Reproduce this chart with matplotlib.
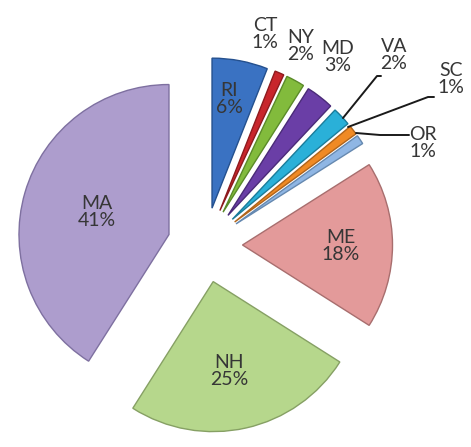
import matplotlib
matplotlib.use("Agg")
import matplotlib.pyplot as plt
import numpy as np

states = ["RI", "CT", "NY", "MD", "VA", "SC", "OR", "ME", "NH", "MA"]
shares = [6, 1, 2, 3, 2, 1, 1, 18, 25, 41]
colors = ["#3a72c2", "#c8262c", "#82bb3c", "#6a3ea6", "#2ab0d8", "#f08a24",
          "#8fb6e4", "#e39a9a", "#b6d78c", "#ad9dcd"]
edges = ["#24508e", "#8e1a1e", "#5a8a28", "#4a2a78", "#1a7c9a", "#b0641a",
         "#6689b0", "#a86e6e", "#86a064", "#7e70a0"]

plt.rcParams['font.family'] = ['Lato', 'DejaVu Sans']

W, H = 471, 447
fig = plt.figure(figsize=(W / 100, H / 100), dpi=100)
ax = fig.add_axes([0, 0, 1, 1])
R = 150.0
cx, cy = 205.0, 245.0

wedges, _ = ax.pie(shares, colors=colors, startangle=90, counterclock=False,
                   explode=[0.25] * len(shares), radius=1.0,
                   wedgeprops=dict(linewidth=1.0), normalize=True)
for w, ec in zip(wedges, edges):
    w.set_edgecolor(ec)

ax.set_xlim(-cx / R, (W - cx) / R)
ax.set_ylim(-(H - cy) / R, cy / R)
ax.set_aspect('auto')
ax.axis('off')

txt = "#363636"
fs = 14

def px(x, y):
    return ((x - cx) / R, (cy - y) / R)

# label centres (pixels from top-left)
label_pos = {"RI": (229, 99), "CT": (265, 34), "NY": (301, 46), "MD": (338, 57),
             "VA": (394, 55), "SC": (451, 79), "OR": (423, 143),
             "ME": (341, 246), "NH": (229, 371), "MA": (97, 212)}

for s, v in zip(states, shares):
    label = f"{s}\n{v}%"
    x, y = px(*label_pos[s])
    ax.text(x, y, label, ha='center', va='center', fontsize=fs, color=txt,
            linespacing=1.0)

# leader lines
leaders = {
    "VA": [(343, 118), (377, 76), (381, 76)],
    "SC": [(348, 127), (428, 97), (434, 97)],
    "OR": [(356, 133), (380, 135), (409, 135)],
}
for s, pts in leaders.items():
    xs, ys = zip(*[px(*p) for p in pts])
    ax.plot(xs, ys, color="#1a1a1a", lw=1.4, solid_capstyle='round')

fig.savefig("out.png", dpi=100, facecolor="white")
